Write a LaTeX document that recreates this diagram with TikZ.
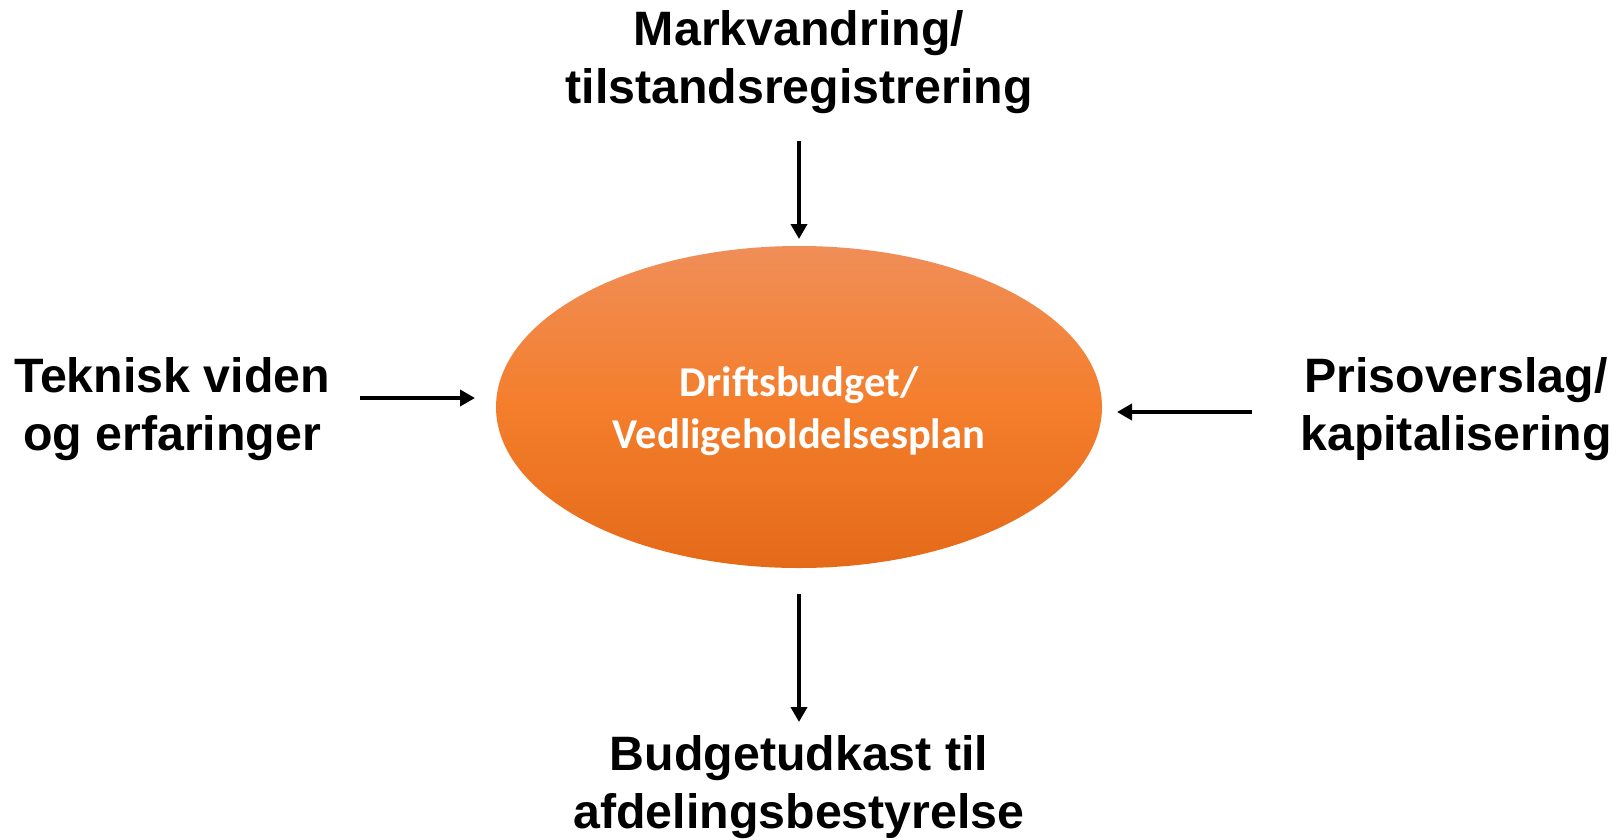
\documentclass[tikz,border=0pt]{standalone}
\usepackage{fontspec}
\setmainfont{Liberation Sans}
\newfontfamily\calfont{Carlito}
\usetikzlibrary{arrows.meta,shapes.geometric}
\definecolor{orTop}{RGB}{240,142,88}
\definecolor{orMid}{RGB}{244,126,44}
\definecolor{orBot}{RGB}{228,106,24}
\tikzset{
  lbl/.style={align=center,inner sep=0pt,font=\fontsize{48.3}{57.5}\selectfont\bfseries},
  conn/.style={line width=4pt,-{Triangle[length=15pt,width=16pt]}},
  blob/.style={ellipse,minimum width=606pt,minimum height=322pt,inner sep=0pt,
    top color=orTop,bottom color=orBot,middle color=orMid,draw=none},
}
\begin{document}
\begin{tikzpicture}[x=1pt,y=-1pt]
\useasboundingbox (0,0) rectangle (1616,839);
\node[blob] (c) at (799,407) {};
\node[align=center,text=white,font=\fontsize{42.5}{52}\selectfont\calfont\bfseries] (ct) at (799,411) {Driftsbudget/\\Vedligeholdelsesplan};
\node[lbl] (top) at (799,62) {Markvandring/\\tilstandsregistrering};
\node[lbl] (left) at (172,409) {Teknisk viden\\og erfaringer};
\node[lbl] (right) at (1456,409) {Prisoverslag/\\kapitalisering};
\node[lbl] (bot) at (799,787) {Budgetudkast til\\afdelingsbestyrelse};
\coordinate (t1) at (799,141);
\coordinate (t2) at (799,239);
\coordinate (l1) at (360,398);
\coordinate (l2) at (475,398);
\coordinate (r1) at (1252,412);
\coordinate (r2) at (1117,412);
\coordinate (b1) at (799,594);
\coordinate (b2) at (799,722);
\draw[conn] (t1) -- (t2);
\draw[conn] (l1) -- (l2);
\draw[conn] (r1) -- (r2);
\draw[conn] (b1) -- (b2);
\end{tikzpicture}
\end{document}
